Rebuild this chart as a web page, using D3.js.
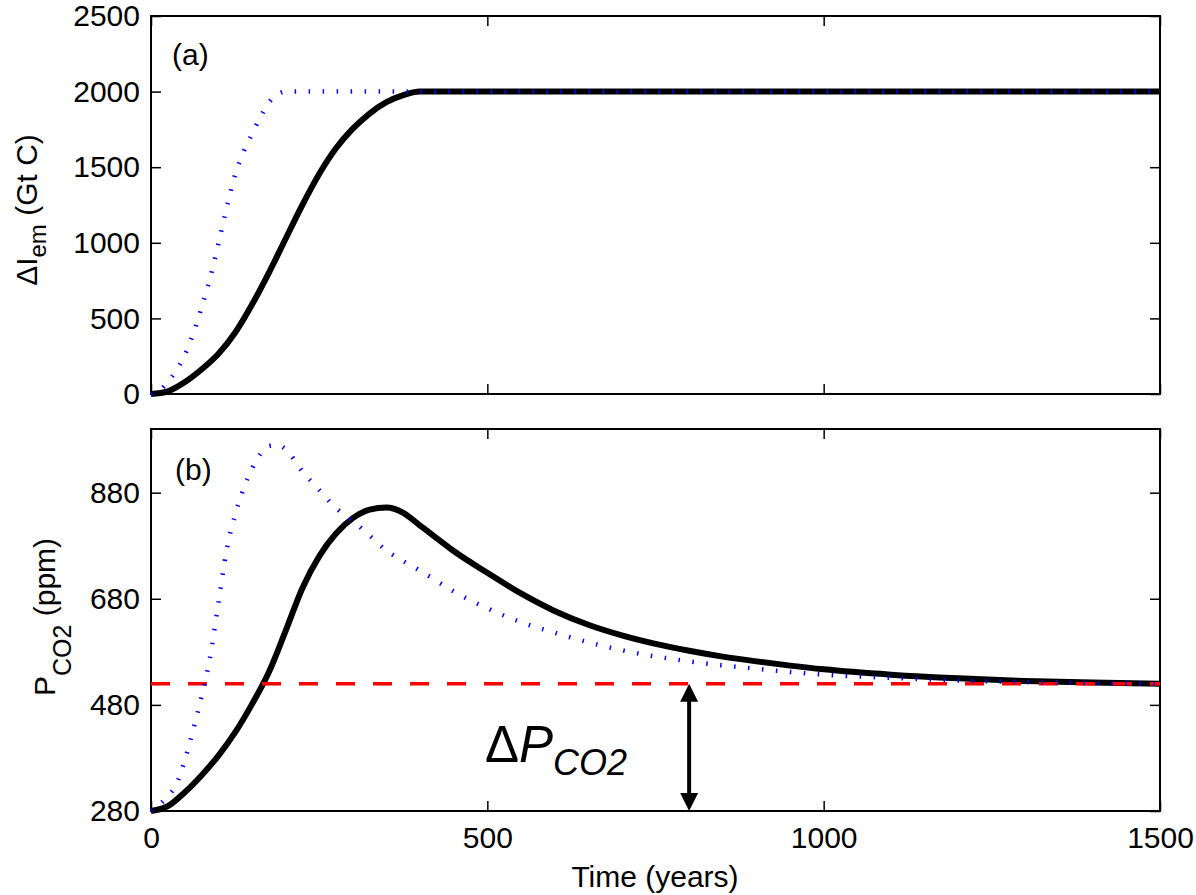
<!DOCTYPE html>
<html>
<head>
<meta charset="utf-8">
<script src="https://cdn.jsdelivr.net/npm/d3@7"></script>
<style>
  body { margin: 0; background: #fff; }
  svg { display: block; font-family: "Liberation Sans", Arial, sans-serif; }
</style>
</head>
<body>
<script>
// tamaño de la figura
const width = 1196;
const height = 895;

// datos panel (a): emisiones acumuladas (Gt C)
const tEmSlow = [0, 25, 50, 75, 100, 125, 150, 175, 200, 225, 250, 275, 300, 325, 350, 375, 400, 1500];
const emSlow  = [0, 18, 78, 162, 265, 405, 590, 800, 1025, 1250, 1455, 1625, 1755, 1855, 1930, 1977, 2000, 2000];
const tEmFast = [0, 12.5, 25, 37.5, 50, 62.5, 75, 87.5, 100, 112.5, 125, 137.5, 150, 162.5, 175, 187.5, 200, 1500];
const emFast  = [0, 22, 80, 155, 255, 395, 570, 760, 990, 1230, 1450, 1600, 1718, 1830, 1925, 1980, 2000, 2000];

// datos panel (b): pCO2 (ppm)
const tCo2Slow = [0, 25, 50, 75, 100, 125, 150, 175, 200, 225, 250, 275, 300, 325, 350, 375, 400, 425, 450, 500, 550, 600, 650, 700, 750, 800, 850, 900, 950, 1000, 1100, 1200, 1300, 1400, 1500];
const co2Slow  = [280, 289, 315, 347, 384, 428, 481, 541, 619, 700, 760, 803, 832, 848, 852, 842, 818, 794, 770, 729, 690, 657, 631, 611, 595, 582, 571, 562, 554, 547, 537, 530, 525, 522, 520];
const tCo2Fast = [0, 12.5, 25, 37.5, 50, 62.5, 75, 87.5, 100, 112.5, 125, 137.5, 150, 162.5, 175, 187.5, 200, 225, 250, 275, 300, 325, 350, 375, 400, 450, 500, 550, 600, 650, 700, 800, 900, 1000, 1100, 1200, 1300, 1400, 1500];
const co2Fast  = [280, 292, 308, 330, 375, 432, 495, 568, 670, 772, 838, 887, 925, 953, 968, 970, 962, 920, 885, 851, 827, 799, 771, 751, 733, 694, 662, 636, 616, 598, 583, 562, 548, 537, 531, 526, 523, 521, 520];
const co2Eq = 520;
const tArrow = 800;

// ticks
const xTicks = [0, 500, 1000, 1500];
const emTicks = [0, 500, 1000, 1500, 2000, 2500];
const co2Ticks = [280, 480, 680, 880];

const svg = d3.select("body").append("svg")
  .attr("width", width)
  .attr("height", height);

const x = d3.scaleLinear().domain([0, 1500]).range([151, 1160]);
const yA = d3.scaleLinear().domain([0, 2500]).range([394, 16]);
const yB = d3.scaleLinear().domain([280, 1000]).range([811, 429]);

function zip(ts, vs) { return ts.map((t, i) => [t, vs[i]]); }

function panel(y, yTicks, showXLabels) {
  const g = svg.append("g");
  const [y0, y1] = y.range();

  g.append("g")
    .attr("transform", `translate(${x.range()[0]},0)`)
    .call(d3.axisLeft(y).tickValues(yTicks).tickSize(-10).tickPadding(11).tickFormat(d3.format("d")));
  g.append("g")
    .attr("transform", `translate(${x.range()[1]},0)`)
    .call(d3.axisRight(y).tickValues(yTicks).tickSize(-10).tickFormat(""));
  g.append("g")
    .attr("transform", `translate(0,${y0})`)
    .call(d3.axisBottom(x).tickValues(xTicks).tickSize(-10).tickPadding(16)
      .tickFormat(showXLabels ? d3.format("d") : ""));
  g.append("g")
    .attr("transform", `translate(0,${y1})`)
    .call(d3.axisTop(x).tickValues(xTicks).tickSize(-10).tickFormat(""));

  g.selectAll(".domain").remove();
  g.selectAll(".tick line").attr("stroke", "#000").attr("stroke-width", 1.5);
  g.selectAll(".tick text").attr("font-size", 30).attr("fill", "#000")
    .attr("font-family", "Liberation Sans, Arial, sans-serif");

  g.append("rect")
    .attr("x", x.range()[0]).attr("y", y1)
    .attr("width", x.range()[1] - x.range()[0]).attr("height", y0 - y1)
    .attr("fill", "none").attr("stroke", "#000").attr("stroke-width", 2);
  return g;
}

const gA = panel(yA, emTicks, false);
const gB = panel(yB, co2Ticks, true);

const lineA = d3.line().x(d => x(d[0])).y(d => yA(d[1])).curve(d3.curveMonotoneX);
const lineB = d3.line().x(d => x(d[0])).y(d => yB(d[1])).curve(d3.curveMonotoneX);

// panel (a)
gA.append("path").attr("d", lineA(zip(tEmSlow, emSlow)))
  .attr("fill", "none").attr("stroke", "#000").attr("stroke-width", 6);
gA.append("path").attr("d", lineA(zip(tEmFast, emFast)))
  .attr("fill", "none").attr("stroke", "#0000ff").attr("stroke-width", 4.5)
  .attr("stroke-dasharray", "1.5,12.5");

// panel (b)
gB.append("path").attr("d", lineB(zip(tCo2Slow, co2Slow)))
  .attr("fill", "none").attr("stroke", "#000").attr("stroke-width", 6);
gB.append("line")
  .attr("x1", x(0)).attr("x2", x(1500))
  .attr("y1", yB(co2Eq)).attr("y2", yB(co2Eq))
  .attr("stroke", "#ff0000").attr("stroke-width", 3.5)
  .attr("stroke-dasharray", "19,18");
gB.append("path").attr("d", lineB(zip(tCo2Fast, co2Fast)))
  .attr("fill", "none").attr("stroke", "#0000ff").attr("stroke-width", 4.5)
  .attr("stroke-dasharray", "1.5,12.5");

// flecha doble
const ax = x(tArrow), aTop = yB(co2Eq), aBot = yB(280);
gB.append("line")
  .attr("x1", ax).attr("x2", ax).attr("y1", aTop + 10).attr("y2", aBot - 10)
  .attr("stroke", "#000").attr("stroke-width", 4);
gB.append("path")
  .attr("d", `M${ax},${aTop} L${ax - 9},${aTop + 18} L${ax + 9},${aTop + 18} Z`)
  .attr("fill", "#000");
gB.append("path")
  .attr("d", `M${ax},${aBot} L${ax - 9},${aBot - 18} L${ax + 9},${aBot - 18} Z`)
  .attr("fill", "#000");

// etiquetas de panel
svg.append("text").attr("x", 172).attr("y", 65).attr("font-size", 30).text("(a)");
svg.append("text").attr("x", 175).attr("y", 480).attr("font-size", 30).text("(b)");

// ΔP_CO2
const dp = svg.append("text").attr("x", 485).attr("y", 762).attr("font-size", 51);
dp.append("tspan").text("\u0394");
dp.append("tspan").attr("font-style", "italic").text("P");
dp.append("tspan").attr("font-style", "italic").attr("font-size", 36).attr("dy", 13).text("CO2");

// etiquetas de ejes
const labA = svg.append("text")
  .attr("transform", "translate(37,210) rotate(-90)")
  .attr("text-anchor", "middle").attr("font-size", 30);
labA.append("tspan").text("\u0394I");
labA.append("tspan").attr("font-size", 24).attr("dy", 9).text("em");
labA.append("tspan").attr("dy", -9).text(" (Gt C)");

const labB = svg.append("text")
  .attr("transform", "translate(55,617) rotate(-90)")
  .attr("text-anchor", "middle").attr("font-size", 30);
labB.append("tspan").text("P");
labB.append("tspan").attr("font-size", 25).attr("dy", 16).text("CO2");
labB.append("tspan").attr("dy", -16).text(" (ppm)");

svg.append("text").attr("x", 655).attr("y", 887)
  .attr("text-anchor", "middle").attr("font-size", 30).text("Time (years)");
</script>
</body>
</html>
